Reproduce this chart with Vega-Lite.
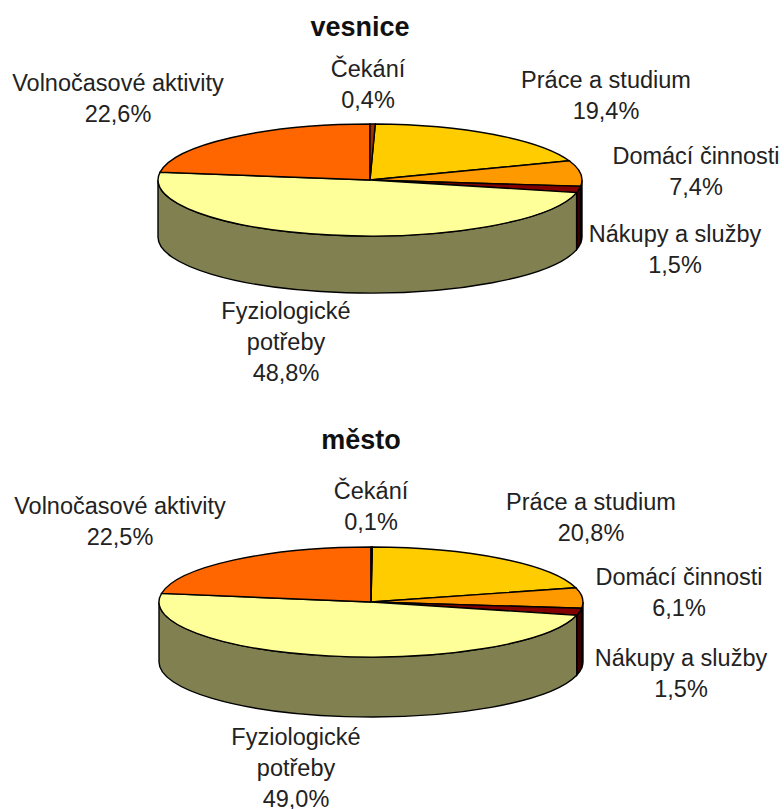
{
"$schema":"https://vega.github.io/schema/vega-lite/v6.json",
"width":784,"height":809,"padding":0,
"autosize":{"type":"fit","contains":"padding"},
"background":"white",
"view":{"stroke":null},
"datasets":{
"slices":[
{"id":1,"pie":"vesnice","slice":"Práce a studium","share":19.4,"label":"Práce a studium\n19,4%"},
{"id":2,"pie":"vesnice","slice":"Domácí činnosti","share":7.4,"label":"Domácí činnosti\n7,4%"},
{"id":3,"pie":"vesnice","slice":"Nákupy a služby","share":1.5,"label":"Nákupy a služby\n1,5%"},
{"id":4,"pie":"vesnice","slice":"Fyziologické potřeby","share":48.8,"label":"Fyziologické\npotřeby\n48,8%"},
{"id":5,"pie":"vesnice","slice":"Volnočasové aktivity","share":22.6,"label":"Volnočasové aktivity\n22,6%"},
{"id":6,"pie":"vesnice","slice":"Čekání","share":0.4,"label":"Čekání\n0,4%"},
{"id":7,"pie":"město","slice":"Práce a studium","share":20.8,"label":"Práce a studium\n20,8%"},
{"id":8,"pie":"město","slice":"Domácí činnosti","share":6.1,"label":"Domácí činnosti\n6,1%"},
{"id":9,"pie":"město","slice":"Nákupy a služby","share":1.5,"label":"Nákupy a služby\n1,5%"},
{"id":10,"pie":"město","slice":"Fyziologické potřeby","share":49.0,"label":"Fyziologické\npotřeby\n49,0%"},
{"id":11,"pie":"město","slice":"Volnočasové aktivity","share":22.5,"label":"Volnočasové aktivity\n22,5%"},
{"id":12,"pie":"město","slice":"Čekání","share":0.1,"label":"Čekání\n0,1%"}
],
"pies":[{"pie":"vesnice"},{"pie":"město"}]
},
"data":{"name":"slices"},
"layer":[
{
"transform":[{"filter":{"field":"slice","oneOf":["Domácí činnosti","Nákupy a služby","Fyziologické potřeby"]}}],
"mark":{"type":"point","filled":true,"opacity":1,"stroke":"black","strokeWidth":1.4,"size":4},
"encoding":{
"x":{"field":"pie","type":"nominal","axis":null,"scale":{"type":"point","domain":["vesnice","město"],"range":[370,371],"padding":0}},
"y":{"field":"pie","type":"nominal","axis":null,"scale":{"type":"point","domain":["vesnice","město"],"range":[180,602],"padding":0}},
"color":{"field":"slice","type":"nominal","legend":null,"scale":{"domain":["Domácí činnosti","Nákupy a služby","Fyziologické potřeby"],"range":["#804C00","#400000","#808050"]}},
"shape":{"field":"id","type":"nominal","legend":null,"scale":{"domain":[2,3,4,8,9,10],"range":[
"M212,0A212,56,0,0,1,210.6,6.3L210.6,63.3A212,56,0,0,0,212,57Z",
"M210.6,6.3A212,56,0,0,1,206.6,12.6L206.6,69.6A212,56,0,0,0,210.6,63.3Z",
"M206.6,12.6A212,56,0,0,1,-212,0L-212,57A212,56,0,0,0,206.6,69.6Z",
"M212,0A212,55,0,0,1,210.6,6.2L210.6,66.2A212,55,0,0,0,212,60Z",
"M210.6,6.2A212,55,0,0,1,205.7,13.3L205.7,73.3A212,55,0,0,0,210.6,66.2Z",
"M205.7,13.3A212,55,0,0,1,-212,0L-212,60A212,55,0,0,0,205.7,73.3Z"
]}}
}
},
{
"mark":{"type":"point","filled":true,"opacity":1,"stroke":"black","strokeWidth":1.4,"size":4},
"encoding":{
"x":{"field":"pie","type":"nominal","axis":null,"scale":{"type":"point","domain":["vesnice","město"],"range":[370,371],"padding":0}},
"y":{"field":"pie","type":"nominal","axis":null,"scale":{"type":"point","domain":["vesnice","město"],"range":[180,602],"padding":0}},
"color":{"field":"slice","type":"nominal","legend":null,"scale":{"domain":["Práce a studium","Domácí činnosti","Nákupy a služby","Fyziologické potřeby","Volnočasové aktivity","Čekání"],"range":["#FFCC00","#FF9900","#800000","#FFFF99","#FF6600","#993300"]}},
"shape":{"field":"id","type":"nominal","legend":null,"scale":{"domain":[1,2,3,4,5,6,7,8,9,10,11,12],"range":[
"M0,0L5.3,-56A212,56,0,0,1,199.2,-19.2Z",
"M0,0L199.2,-19.2A212,56,0,0,1,210.6,6.3Z",
"M0,0L210.6,6.3A212,56,0,0,1,206.6,12.6Z",
"M0,0L206.6,12.6A212,56,0,0,1,-209.9,-7.8Z",
"M0,0L-209.9,-7.8A212,56,0,0,1,0,-56Z",
"M0,0L0,-56A212,56,0,0,1,5.3,-56Z",
"M0,0L1.3,-55A212,55,0,0,1,204.8,-14.2Z",
"M0,0L204.8,-14.2A212,55,0,0,1,210.6,6.2Z",
"M0,0L210.6,6.2A212,55,0,0,1,205.7,13.3Z",
"M0,0L205.7,13.3A212,55,0,0,1,-209.4,-8.6Z",
"M0,0L-209.4,-8.6A212,55,0,0,1,0,-55Z",
"M0,0L0,-55A212,55,0,0,1,1.3,-55Z"
]}}
}
},
{
"mark":{"type":"text","font":"Liberation Sans","fontSize":23.5,"lineBreak":"\n","lineHeight":31,"align":"center","baseline":"middle","color":"#222222"},
"encoding":{
"x":{"field":"id","type":"quantitative","axis":null,"scale":{"zero":false,"nice":false,"domain":[1,2,3,4,5,6,7,8,9,10,11,12],"range":[606,696,675,286,118,368,591,679,681,296,120,371]}},
"y":{"field":"id","type":"quantitative","axis":null,"scale":{"zero":false,"nice":false,"domain":[1,2,3,4,5,6,7,8,9,10,11,12],"range":[81,157,235,312,84,70,503,578,659,738,507,492]}},
"text":{"field":"label","type":"nominal"}
}
},
{
"data":{"name":"pies"},
"mark":{"type":"text","font":"Liberation Sans","fontSize":27,"fontWeight":"bold","align":"center","baseline":"middle","color":"#111111"},
"encoding":{
"x":{"field":"pie","type":"nominal","axis":null,"scale":{"type":"point","domain":["vesnice","město"],"range":[360,361],"padding":0}},
"y":{"field":"pie","type":"nominal","axis":null,"scale":{"type":"point","domain":["vesnice","město"],"range":[28,441],"padding":0}},
"text":{"field":"pie","type":"nominal"}
}
}
],
"resolve":{"scale":{"x":"independent","y":"independent","shape":"independent","color":"independent"}}
}
